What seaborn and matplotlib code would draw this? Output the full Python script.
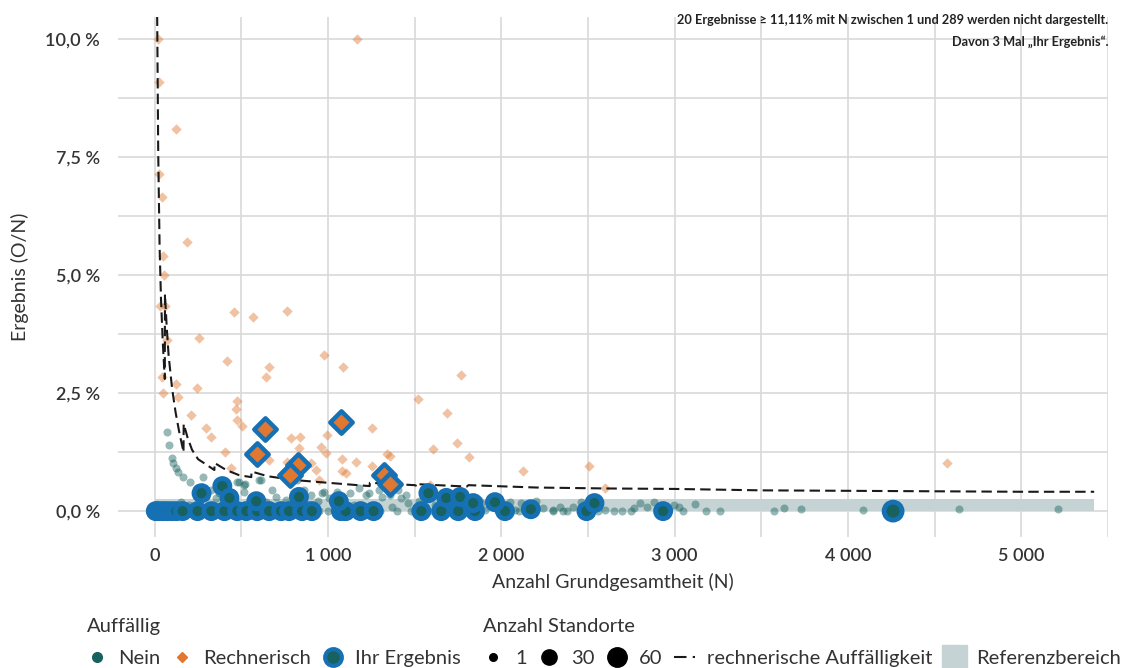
import matplotlib
matplotlib.use("Agg")
import matplotlib.pyplot as plt
from matplotlib.lines import Line2D
import pandas as pd
import seaborn as sns

# ---------------------------------------------------------------- data
# Standorte ohne Auffälligkeit (N, Ergebnis in %)
nein_n = [69, 80, 98, 103, 121, 132, 161, 201, 241, 276, 327, 373, 385, 476, 488,
          517, 522, 517, 603, 614, 677, 821, 861, 901, 964, 976, 1005, 1177, 1217,
          1234, 1309, 1406, 1447, 1464, 1366, 1883, 1906, 2078, 2049, 2112, 2239,
          2296, 2336, 2353, 2411, 2457, 2600, 2698, 2767, 2801, 2841, 2881, 2910,
          2996, 3025, 3117, 3260, 3570, 3628, 3731, 4087, 4638, 5212,
          241, 298, 356, 413, 1051, 1126, 1292, 1355, 1418, 1527, 1561, 1619, 1700,
          1790, 1870, 1950, 2000, 2160, 2200, 700, 760, 880, 940, 1150, 1200, 560,
          640, 450, 350, 300, 150, 200, 250,
          20, 45, 75, 110, 140, 180, 220, 260, 300, 350, 420, 500, 560, 620, 700,
          800, 880, 950, 1000, 1150, 1300, 1400, 1480, 1580, 1700, 1800, 1980, 2100,
          2300, 2380, 2480, 2560, 2650, 2750, 2950, 3050, 3180]
nein_pct = [1.67, 1.40, 1.12, 1.02, 0.91, 0.83, 0.72, 0.61, 0.49, 0.72, 0.45, 0.38,
            0.61, 0.61, 0.61, 0.55, 0.57, 0.40, 0.66, 0.66, 0.45, 0.66, 0.45, 0.34,
            0.38, 0.40, 0.28, 0.49, 0.34, 0.38, 0.30, 0.45, 0.34, 0.17, 0.08, 0.17,
            0.02, 0.02, 0.19, 0.17, 0.06, 0.02, 0.08, 0.00, 0.08, 0.19, 0.02, 0.00,
            0.06, 0.17, 0.08, 0.19, 0.06, 0.13, 0.08, 0.15, 0.00, 0.00, 0.06, 0.04,
            0.02, 0.04, 0.04,
            0.47, 0.30, 0.28, 0.23, 0.40, 0.38, 0.45, 0.34, 0.28, 0.21, 0.08, 0.13,
            0.17, 0.06, 0.23, 0.08, 0.13, 0.10, 0.21, 0.30, 0.23, 0.15, 0.21, 0.13,
            0.08, 0.30, 0.19, 0.15, 0.10, 0.06, 0.20, 0.12, 0.08,
            0.0, 0.0, 0.0, 0.0, 0.0, 0.0, 0.0, 0.0, 0.0, 0.0, 0.0, 0.0, 0.0, 0.0,
            0.0, 0.0, 0.0, 0.0, 0.0, 0.0, 0.0, 0.0, 0.0, 0.0, 0.0, 0.0, 0.0, 0.0,
            0.0, 0.0, 0.0, 0.0, 0.0, 0.0, 0.0, 0.0, 0.0]

# Rechnerisch auffällige Standorte (N, Ergebnis in %)
rech_n = [17, 23, 121, 23, 40, 184, 46, 52, 29, 57, 459, 568, 763, 69, 253, 419,
          660, 643, 976, 1085, 40, 1165, 121, 241, 46, 132, 476, 471, 207, 476, 505,
          293, 327, 408, 660, 786, 838, 832, 763, 901, 959, 987, 993, 930, 948, 442,
          1516, 1688, 1251, 1745, 1607, 1814, 1079, 1160, 1338, 1360, 1251, 1079,
          1102, 2124, 1590, 2503, 2600, 4570, 1768]
rech_pct = [10.0, 9.09, 8.10, 7.14, 6.65, 5.70, 5.40, 5.00, 4.34, 4.34, 4.21, 4.11,
            4.24, 3.62, 3.66, 3.18, 3.05, 2.84, 3.30, 3.05, 2.84, 10.0, 2.69, 2.61,
            2.50, 2.42, 2.33, 2.16, 2.03, 1.93, 1.80, 1.76, 1.57, 1.25, 1.08, 1.55,
            1.57, 1.33, 1.04, 1.02, 1.36, 1.23, 1.61, 0.87, 0.66, 0.91,
            2.37, 2.07, 1.76, 1.44, 1.31, 1.14, 1.10, 1.04, 1.21, 1.17, 0.95, 0.85,
            0.81, 0.85, 0.55, 0.95, 0.49, 1.02, 2.88]

# Eigene Standorte ("Ihr Ergebnis") ohne Auffälligkeit
ihr_nein_n = [6, 20, 46, 70, 98, 125, 161, 247, 327, 402, 476, 528, 591, 660, 729,
              775, 850, 907, 1074, 1102, 1188, 1263, 1538, 1653, 1751, 1848, 2021,
              2170, 2491, 2933, 4260,
              270, 390, 431, 586, 832, 1062, 1579, 1682, 1762, 1837, 1963, 2537]
ihr_nein_pct = [0.0] * 27 + [0.04, 0.0, 0.0, 0.0,
                             0.38, 0.53, 0.28, 0.21, 0.30, 0.21, 0.38, 0.28, 0.30,
                             0.17, 0.19, 0.17]
ihr_nein_standorte = [1] * 30 + [5] + [1] * 12

# Eigene Standorte ("Ihr Ergebnis") rechnerisch auffällig
ihr_rech_n = [637, 591, 1073, 827, 781, 1320, 1360]
ihr_rech_pct = [1.74, 1.21, 1.89, 0.98, 0.76, 0.76, 0.57]

# Grenze der rechnerischen Auffälligkeit
grenze_n = [14, 20, 28, 36, 46, 58, 59, 69, 80, 100, 120, 140, 166, 167, 190, 215,
            250, 300, 344, 345, 413, 488, 557, 558, 650, 800, 1000, 1240, 1241,
            1500, 1520, 1521, 1800, 1810, 2200, 2600, 3000, 3500, 4000, 4500, 5000,
            5420]
grenze_pct = [10.5, 7.6, 5.6, 4.5, 3.6, 2.8, 4.6, 3.9, 3.3, 2.6, 2.1, 1.7,
              1.25, 1.85, 1.55, 1.30, 1.10, 0.98, 0.87, 1.02, 0.87, 0.76, 0.72,
              0.84, 0.74, 0.66, 0.60, 0.53, 0.60, 0.55, 0.52, 0.57, 0.52, 0.55,
              0.50, 0.48, 0.47, 0.44, 0.43, 0.42, 0.41, 0.41]

referenz_max = 0.25      # Referenzbereich 0 % bis 0,25 %
referenz_n_max = 5420

x_ticks = [0, 1000, 2000, 3000, 4000, 5000]
x_tick_labels = ["0", "1 000", "2 000", "3 000", "4 000", "5 000"]
y_ticks = [0, 2.5, 5, 7.5, 10]
y_tick_labels = ["0,0 %", "2,5 %", "5,0 %", "7,5 %", "10,0 %"]
legend_sizes = [1, 30, 60]

# ---------------------------------------------------------------- style
TEAL = "#17625f"
ORANGE = "#e07832"
BLUE = "#1570b4"
BAND = "#c6d3d4"
TEXT = "#333333"

sns.set_style("white")
plt.rcParams["font.family"] = ["Lato", "DejaVu Sans"]


def size_of(standorte):
    return 30 + 3.5 * standorte


nein = pd.DataFrame({"N": nein_n, "pct": nein_pct})
rech = pd.DataFrame({"N": rech_n, "pct": rech_pct})
ihr_nein = pd.DataFrame({"N": ihr_nein_n, "pct": ihr_nein_pct,
                         "standorte": ihr_nein_standorte})
ihr_rech = pd.DataFrame({"N": ihr_rech_n, "pct": ihr_rech_pct})
grenze = pd.DataFrame({"N": grenze_n, "pct": grenze_pct})

fig = plt.figure(figsize=(11.39, 6.68), dpi=100)
ax = fig.add_axes([0.1036, 0.196, 0.8692, 0.7786])

# Referenzbereich
ax.fill_between([0, referenz_n_max], 0, referenz_max, color=BAND, lw=0, zorder=1)

sns.scatterplot(data=nein, x="N", y="pct", ax=ax, color=TEAL, alpha=0.45,
                s=size_of(1), linewidth=0, zorder=3, legend=False)
sns.scatterplot(data=rech, x="N", y="pct", ax=ax, color=ORANGE, alpha=0.45,
                marker="D", s=28, linewidth=0, zorder=3, legend=False)
sns.lineplot(data=grenze, x="N", y="pct", ax=ax, color="#1a1a1a", lw=1.5,
             estimator=None, sort=False, zorder=4, legend=False,
             dashes=False, linestyle=(0, (5, 2.5)))
sns.scatterplot(data=ihr_nein, x="N", y="pct", ax=ax, color=TEAL,
                s=[size_of(v) * 3.5 for v in ihr_nein["standorte"]],
                edgecolor=BLUE, linewidth=3.5, zorder=5, legend=False)
sns.scatterplot(data=ihr_rech, x="N", y="pct", ax=ax, color=ORANGE, marker="D",
                s=130, edgecolor=BLUE, linewidth=3.2, zorder=6, legend=False)

# axes
ax.set_xlim(-212, 5470)
ax.set_ylim(-0.55, 10.47)
ax.set_xticks(x_ticks)
ax.set_xticklabels(x_tick_labels)
ax.set_xticks([500, 1500, 2500, 3500, 4500, 5500], minor=True)
ax.set_yticks(y_ticks)
ax.set_yticklabels(y_tick_labels)
ax.set_yticks([1.25, 3.75, 6.25, 8.75], minor=True)
ax.grid(True, which="both", color="#d9d9d9", lw=1.2, zorder=0)
ax.set_axisbelow(True)
for sp in ax.spines.values():
    sp.set_visible(False)
ax.tick_params(axis="both", which="both", length=0)
ax.tick_params(axis="y", pad=13, labelsize=13, labelcolor=TEXT)
ax.tick_params(axis="x", pad=8, labelsize=13, labelcolor=TEXT)
for lab in ax.get_xticklabels() + ax.get_yticklabels():
    lab.set_fontweight("semibold")
ax.set_xlabel("Anzahl Grundgesamtheit (N)", fontsize=14, color=TEXT, labelpad=6)
ax.set_ylabel("Ergebnis (O/N)", fontsize=14, color=TEXT, labelpad=12)

# hint on results outside the displayed range
fig.text(0.9728, 0.970, "20 Ergebnisse ≥ 11,11% mit N zwischen 1 und 289 werden nicht dargestellt.",
         ha="right", va="center", fontsize=9.2, fontweight="bold", color="#222222")
fig.text(0.9728, 0.937, "Davon 3 Mal „Ihr Ergebnis“.",
         ha="right", va="center", fontsize=9.2, fontweight="bold", color="#222222")

# legends
LEG_FS = 14.5
h_auff = [
    Line2D([], [], ls="", marker="o", ms=7, color=TEAL),
    Line2D([], [], ls="", marker="D", ms=5.5, color=ORANGE),
    Line2D([], [], ls="", marker="o", ms=12, markerfacecolor=TEAL,
           markeredgecolor=BLUE, markeredgewidth=3),
]
leg1 = fig.legend(h_auff, ["Nein", "Rechnerisch", "Ihr Ergebnis"], title="Auffällig",
                  loc="upper left", bbox_to_anchor=(0.076, 0.0745), ncol=3,
                  frameon=False, fontsize=LEG_FS, title_fontsize=LEG_FS,
                  handlelength=1.0, handletextpad=0.55, columnspacing=0.6,
                  labelspacing=0.75, alignment="left", borderpad=0,
                  borderaxespad=0)
h_size = [Line2D([], [], ls="", marker="o", ms=ms, color="black")
          for ms in (5.5, 11, 14)]
h_size.append(Line2D([], [], color="#1a1a1a", lw=1.5, linestyle=(0, (6, 3))))
h_size.append(Line2D([], [], ls="", marker="s", ms=18, color=BAND))
leg2 = fig.legend(h_size, [str(v) for v in legend_sizes] +
                  ["rechnerische Auffälligkeit", "Referenzbereich"],
                  title="Anzahl Standorte", loc="upper left",
                  bbox_to_anchor=(0.424, 0.0745), ncol=5, frameon=False,
                  fontsize=LEG_FS, title_fontsize=LEG_FS, handlelength=1.0,
                  handletextpad=0.6, columnspacing=0.6, labelspacing=0.75,
                  alignment="left", borderpad=0, borderaxespad=0)
for lg in (leg1, leg2):
    for t in lg.get_texts():
        t.set_color(TEXT)
    lg.get_title().set_color(TEXT)

fig.savefig("out.png", dpi=100)
